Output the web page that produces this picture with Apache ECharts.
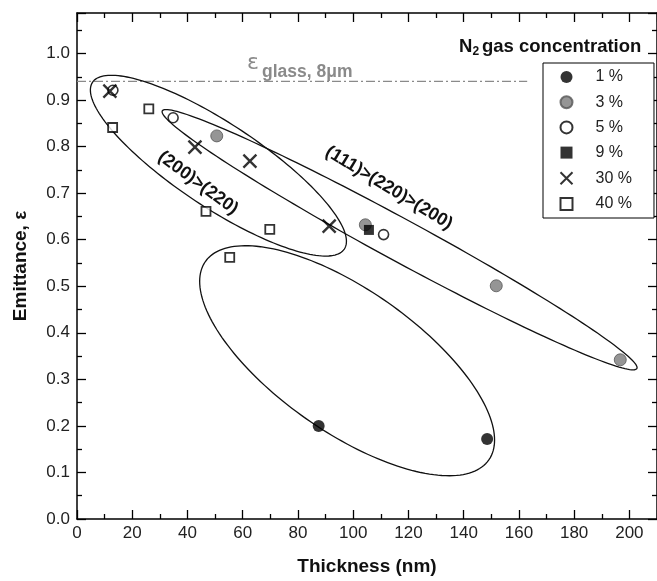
<!DOCTYPE html>
<html>
<head>
<meta charset="utf-8">
<script src="https://cdn.jsdelivr.net/npm/echarts@6/dist/echarts.min.js"></script>
<style>
  html, body { margin: 0; padding: 0; background: #fff; }
  #chart { width: 657px; height: 581px; }
</style>
</head>
<body>
<div id="chart"></div>
<script>
// thickness (nm), emittance
const n1 = [[87.5, 0.200], [148.5, 0.172]];
const n3 = [[50.6, 0.823], [104.4, 0.632], [151.8, 0.501], [196.7, 0.342]];
const n5 = [[13.0, 0.921], [34.8, 0.862], [111.0, 0.611]];
const n9 = [[105.7, 0.621]];
const n30 = [[11.9, 0.919], [42.7, 0.799], [62.6, 0.769], [91.3, 0.629]];
const n40 = [[12.9, 0.841], [26.0, 0.881], [46.7, 0.661], [69.8, 0.622], [55.3, 0.562]];

const seriesNames = ['1 %', '3 %', '5 %', '9 %', '30 %', '40 %'];

// glass reference line
const glassLine = [[0, 0.94], [163, 0.94]];

// grouping ellipse centres (data coords)
const ellipseCentres = [[51.2, 0.759], [116.8, 0.600], [97.8, 0.340]];
// ellipse outline shapes in pixels (semi axes, tilt)
const ellipseShapes = [
  { rx: 151, ry: 42, angle: 33.5 },
  { rx: 270, ry: 21, angle: 28.5 },
  { rx: 173, ry: 71, angle: 35 }
];

const FONT = '"Liberation Sans", Arial, Helvetica, sans-serif';
const chart = echarts.init(document.getElementById('chart'), null, { renderer: 'canvas' });

const crossPath = 'path://M0,0L10,10M10,0L0,10';

const axisCommon = {
  axisLine: { show: true, onZero: false, lineStyle: { color: '#000', width: 1.5 } },
  axisTick: { show: true, inside: true, length: 9, lineStyle: { color: '#000', width: 1.3 } },
  minorTick: { show: true, splitNumber: 2, length: 5, lineStyle: { color: '#000', width: 1.3 } },
  splitLine: { show: false }
};

const scatterBase = (name, data, extra) => Object.assign({
  name: name,
  type: 'scatter',
  data: data,
  z: 5
}, extra);

chart.setOption({
  animation: false,
  grid: { left: 77, top: 13, width: 581, bottom: 57 },
  legend: {
    data: seriesNames,
    orient: 'vertical',
    left: 543,
    top: 63,
    padding: [6, 22, 6, 15],
    itemGap: 9.2,
    itemWidth: 12,
    itemHeight: 12,
    borderColor: '#000',
    borderWidth: 1,
    backgroundColor: '#fff',
    textStyle: { fontFamily: FONT, fontSize: 16, color: '#222', lineHeight: 14, padding: [0, 0, 0, 18] }
  },
  xAxis: [
    Object.assign({
      type: 'value', min: 0, max: 210, interval: 20,
      name: 'Thickness (nm)', nameLocation: 'middle', nameGap: 38,
      nameTextStyle: { fontFamily: FONT, fontSize: 19, fontWeight: 'bold', color: '#111' },
      axisLabel: { fontFamily: FONT, fontSize: 17, color: '#222', margin: 6, showMaxLabel: false,
        formatter: v => (v % 20 === 0 ? String(v) : '') }
    }, axisCommon),
    Object.assign({
      type: 'value', min: 0, max: 210, interval: 20, position: 'top',
      axisLabel: { show: false }
    }, axisCommon)
  ],
  yAxis: [
    Object.assign({
      type: 'value', min: 0, max: 1.087, interval: 0.1,
      name: 'Emittance, ε', nameLocation: 'middle', nameGap: 47,
      nameTextStyle: { fontFamily: FONT, fontSize: 19, fontWeight: 'bold', color: '#111' },
      axisLabel: { fontFamily: FONT, fontSize: 17, color: '#222', margin: 7, showMaxLabel: false,
        formatter: v => (v > 1.01 ? '' : v.toFixed(1)) }
    }, axisCommon),
    Object.assign({
      type: 'value', min: 0, max: 1.087, interval: 0.1, position: 'right',
      axisLabel: { show: false }
    }, axisCommon)
  ],
  series: [
    {
      type: 'custom',
      data: ellipseCentres,
      silent: true,
      z: 2,
      renderItem: (params, api) => {
        const c = api.coord([api.value(0), api.value(1)]);
        const s = ellipseShapes[params.dataIndex];
        const t = s.angle * Math.PI / 180;
        const pts = [];
        for (let k = 0; k <= 180; k++) {
          const a = k / 180 * 2 * Math.PI;
          const ex = s.rx * Math.cos(a), ey = s.ry * Math.sin(a);
          pts.push([c[0] + ex * Math.cos(t) - ey * Math.sin(t), c[1] + ex * Math.sin(t) + ey * Math.cos(t)]);
        }
        return { type: 'polygon', shape: { points: pts }, style: { fill: 'none', stroke: '#111', lineWidth: 1.3 } };
      }
    },
    {
      type: 'line',
      data: glassLine,
      symbol: 'none',
      silent: true,
      z: 1,
      lineStyle: { color: '#8a8a8a', width: 1.2, type: [9, 3, 2, 3] }
    },
    scatterBase('1 %', n1, { symbol: 'circle', symbolSize: 12, itemStyle: { color: '#000' } }),
    scatterBase('3 %', n3, { symbol: 'circle', symbolSize: 12, itemStyle: { color: '#7b7b7b', borderColor: '#555', borderWidth: 1 } }),
    scatterBase('5 %', n5, { symbol: 'circle', symbolSize: 10, itemStyle: { color: '#fff', borderColor: '#000', borderWidth: 1.6 } }),
    scatterBase('9 %', n9, { symbol: 'rect', symbolSize: 10, itemStyle: { color: '#000' } }),
    scatterBase('30 %', n30, { symbol: crossPath, symbolSize: 13, itemStyle: { color: 'none', borderColor: '#000', borderWidth: 2.4 } }),
    scatterBase('40 %', n40, { symbol: 'rect', symbolSize: 9, itemStyle: { color: '#fff', borderColor: '#000', borderWidth: 1.8 } })
  ],
  graphic: [
    { type: 'text', left: 459, top: 37, style: { text: 'N', font: 'bold 18.5px ' + FONT, fill: '#111' } },
    { type: 'text', left: 472.5, top: 46, style: { text: '2', font: 'bold 12px ' + FONT, fill: '#111' } },
    { type: 'text', left: 482, top: 37, style: { text: 'gas concentration', font: 'bold 18.5px ' + FONT, fill: '#111' } },
    { type: 'text', left: 247, top: 52, style: { text: 'ε', fontSize: 22, fontFamily: 'DejaVu Sans', fill: '#8a8a8a' } },
    { type: 'text', left: 262, top: 63, style: { text: 'glass, 8μm', font: 'bold 17.5px ' + FONT, fill: '#8a8a8a' } },
    {
      type: 'text', x: 198, y: 183, rotation: -36.3 * Math.PI / 180,
      style: { text: '(200)>(220)', font: 'bold 18px ' + FONT, fill: '#111', align: 'center', verticalAlign: 'middle' }
    },
    {
      type: 'text', x: 389, y: 188, rotation: -31.2 * Math.PI / 180,
      style: { text: '(111)>(220)>(200)', font: 'bold 18px ' + FONT, fill: '#111', align: 'center', verticalAlign: 'middle' }
    }
  ]
});
</script>
</body>
</html>
